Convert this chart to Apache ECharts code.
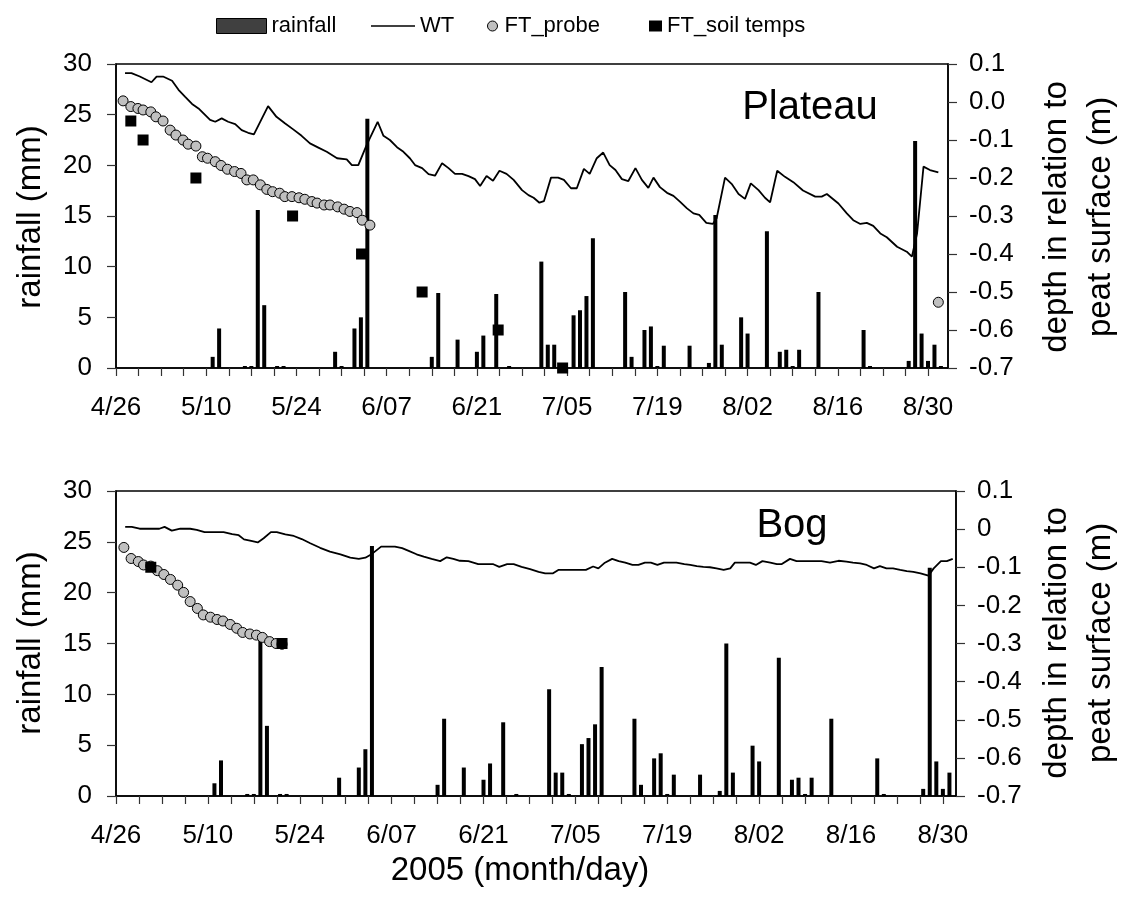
<!DOCTYPE html>
<html>
<head>
<meta charset="utf-8">
<script src="https://cdn.jsdelivr.net/npm/echarts@6.0.0/dist/echarts.min.js"></script>
<style>
  html, body { margin: 0; padding: 0; background: #fff; }
  #main { width: 1128px; height: 922px; }
</style>
</head>
<body>
<div id="main"></div>
<script>
// days counted from 4/26/2005
const rainDaysTop = [15,16,20,21,22,23,25,26,34,35,37,38,39,49,50,53,56,57,59,61,66,67,68,69,71,72,73,74,79,80,82,83,84,85,89,92,93,94,97,98,101,103,104,105,106,109,116,117,123,124,125,126,127,128];
const rainTop = [1.1,3.9,0.2,0.2,15.6,6.2,0.2,0.2,1.6,0.2,3.9,5.0,24.6,1.1,7.4,2.8,1.6,3.2,7.3,0.2,10.5,2.3,2.3,0.2,5.2,5.7,7.1,12.8,7.5,1.1,3.75,4.1,0.2,2.2,2.2,0.5,15.1,2.3,5.0,3.4,13.5,1.6,1.8,0.2,1.8,7.5,3.75,0.2,0.7,22.4,3.4,0.7,2.3,0.2];

const wtDaysTop = [1.4,2.4,3.7,5.5,6.3,7.3,8.7,9.7,10.7,11.8,12.8,14.6,15.4,16.4,17.4,18.5,19.5,20.5,21.4,23.6,24.9,26.2,27.5,28.8,30.1,31.4,32.7,34.3,35.8,36.6,37.6,38.9,40.6,41.5,42.5,43.6,44.6,45.6,46.4,47.5,48.5,49.5,50.6,51.6,52.6,53.7,54.7,55.7,56.5,57.5,58.5,59.5,60.6,61.7,63.0,64.0,64.8,65.7,66.4,67.5,68.6,69.5,70.6,71.5,72.6,73.5,74.6,75.6,76.6,77.5,78.5,79.5,80.6,81.6,82.6,83.4,84.4,85.5,86.5,87.5,88.6,89.6,90.5,91.6,92.6,93.2,94.5,95.6,96.6,97.6,98.5,99.7,100.7,101.5,102.6,103.8,105.1,106.6,108.5,109.5,110.3,112.1,113.4,114.4,115.5,116.5,117.5,118.6,119.6,121.2,122.7,123.5,124.3,125.3,126.3,127.6];
const wtTop = [0.076,0.076,0.067,0.052,0.067,0.067,0.056,0.032,0.014,-0.005,-0.017,-0.047,-0.052,-0.043,-0.052,-0.058,-0.074,-0.081,-0.085,-0.011,-0.039,-0.056,-0.072,-0.089,-0.109,-0.120,-0.131,-0.148,-0.151,-0.166,-0.166,-0.113,-0.052,-0.089,-0.100,-0.119,-0.131,-0.148,-0.166,-0.174,-0.190,-0.194,-0.161,-0.174,-0.189,-0.189,-0.195,-0.203,-0.221,-0.195,-0.207,-0.181,-0.189,-0.205,-0.232,-0.245,-0.252,-0.265,-0.261,-0.199,-0.199,-0.205,-0.227,-0.227,-0.176,-0.189,-0.148,-0.133,-0.166,-0.179,-0.203,-0.208,-0.174,-0.205,-0.226,-0.199,-0.224,-0.239,-0.247,-0.262,-0.280,-0.293,-0.297,-0.318,-0.321,-0.306,-0.199,-0.217,-0.242,-0.255,-0.214,-0.232,-0.252,-0.264,-0.181,-0.197,-0.211,-0.233,-0.249,-0.249,-0.242,-0.267,-0.293,-0.311,-0.321,-0.318,-0.326,-0.346,-0.356,-0.381,-0.394,-0.407,-0.346,-0.170,-0.179,-0.185];

const probeDaysTop = [1.1,2.3,3.4,4.2,5.4,6.2,7.3,8.4,9.3,10.4,11.2,12.4,13.4,14.2,15.4,16.3,17.3,18.4,19.4,20.3,21.3,22.4,23.4,24.3,25.4,26.2,27.3,28.4,29.3,30.4,31.2,32.3,33.2,34.4,35.4,36.3,37.4,38.2,39.4,127.6];
const probeTop = [0.003,-0.012,-0.017,-0.021,-0.026,-0.039,-0.050,-0.074,-0.087,-0.100,-0.111,-0.116,-0.144,-0.148,-0.157,-0.167,-0.177,-0.183,-0.188,-0.205,-0.205,-0.218,-0.230,-0.236,-0.240,-0.249,-0.249,-0.252,-0.256,-0.262,-0.266,-0.271,-0.271,-0.276,-0.282,-0.288,-0.291,-0.311,-0.324,-0.527];

const soilDaysTop = [2.3,4.2,12.4,27.4,38.1,47.5,59.3,69.3];
const soilTop = [-0.05,-0.1,-0.2,-0.3,-0.4,-0.5,-0.6,-0.7];

const rainDaysBog = [15,16,20,21,22,23,25,26,34,37,38,39,49,50,53,56,57,59,61,66,67,68,69,71,72,73,74,79,80,82,83,84,85,89,92,93,94,97,98,101,103,104,105,106,109,116,117,123,124,125,126,127];
const rainBog = [1.25,3.5,0.2,0.2,15.5,6.9,0.2,0.2,1.8,2.8,4.6,24.6,1.1,7.6,2.8,1.6,3.2,7.25,0.2,10.5,2.3,2.3,0.2,5.1,5.7,7.05,12.7,7.6,1.1,3.7,4.2,0.2,2.1,2.1,0.5,15.0,2.3,4.95,3.4,13.6,1.6,1.8,0.2,1.8,7.6,3.7,0.2,0.7,22.45,3.4,0.7,2.3];

const wtDaysBog = [1.4,2.4,3.6,4.7,5.7,6.6,7.4,8.5,9.8,11.3,12.3,13.5,14.9,16.4,17.7,18.7,19.5,20.6,21.6,22.5,23.6,24.5,25.8,27.1,28.3,29.6,31.1,32.6,34.2,35.7,37.0,38.0,39.0,40.4,42.5,43.6,44.6,45.8,46.9,48.1,49.4,50.4,51.4,52.4,53.7,55.2,56.5,57.5,58.4,59.6,60.6,61.8,63.1,64.4,65.4,66.6,67.4,68.7,70.2,71.6,72.7,73.5,74.5,75.6,76.6,77.6,78.7,79.6,80.6,81.5,82.5,83.5,84.5,85.4,86.6,87.5,88.5,89.5,90.5,91.5,92.6,93.6,94.3,95.6,96.6,97.5,98.5,99.7,100.7,101.4,102.7,103.7,105.0,106.3,107.5,108.8,110.1,111.3,112.3,113.4,114.4,115.5,116.4,117.4,118.4,119.5,120.5,121.5,122.6,123.8,124.6,125.7,126.6,127.5];
const wtBog = [0.006,0.006,0.001,0.001,0.001,0.001,0.006,-0.004,0.001,0.001,-0.002,-0.008,-0.008,-0.008,-0.013,-0.016,-0.027,-0.031,-0.035,-0.024,-0.008,-0.008,-0.014,-0.018,-0.026,-0.037,-0.049,-0.059,-0.066,-0.075,-0.078,-0.075,-0.065,-0.046,-0.046,-0.050,-0.057,-0.066,-0.072,-0.078,-0.084,-0.074,-0.078,-0.083,-0.084,-0.092,-0.092,-0.092,-0.099,-0.092,-0.092,-0.099,-0.105,-0.112,-0.116,-0.116,-0.107,-0.107,-0.107,-0.107,-0.098,-0.103,-0.088,-0.078,-0.084,-0.088,-0.094,-0.094,-0.088,-0.088,-0.094,-0.088,-0.088,-0.088,-0.092,-0.094,-0.097,-0.099,-0.100,-0.103,-0.107,-0.103,-0.088,-0.088,-0.088,-0.094,-0.084,-0.088,-0.092,-0.092,-0.078,-0.084,-0.084,-0.084,-0.084,-0.088,-0.083,-0.085,-0.088,-0.090,-0.094,-0.103,-0.097,-0.103,-0.103,-0.107,-0.110,-0.112,-0.116,-0.122,-0.103,-0.084,-0.084,-0.078];

const probeDaysBog = [1.2,2.3,3.4,4.2,5.3,6.3,7.3,8.3,9.4,10.3,11.3,12.4,13.3,14.4,15.4,16.3,17.4,18.4,19.3,20.4,21.4,22.3,23.4,24.4,25.3];
const probeBog = [-0.048,-0.077,-0.085,-0.094,-0.097,-0.109,-0.119,-0.132,-0.147,-0.166,-0.190,-0.208,-0.225,-0.231,-0.237,-0.241,-0.250,-0.260,-0.271,-0.275,-0.278,-0.284,-0.295,-0.300,-0.302];

const soilDaysBog = [5.3,25.3];
const soilBog = [-0.1,-0.3];

const FONT = 'Liberation Sans, Arial, sans-serif';

function zip(xs, ys) {
  return xs.map((x, i) => [x, ys[i]]);
}

function dayLabel(v) {
  const k = v / 14;
  if (Math.abs(k - Math.round(k)) > 1e-6) return '';
  const d = new Date(2005, 3, 26 + Math.round(v));
  return (d.getMonth() + 1) + '/' + String(d.getDate()).padStart(2, '0');
}

function xAxis(grid, max) {
  return {
    gridIndex: grid, type: 'value', min: 0, max: max, interval: 3.5,
    axisLine: { show: true, onZero: false, lineStyle: { color: '#000', width: 1.5 } },
    axisTick: { show: true, length: 8, lineStyle: { color: '#333', width: 1.2 } },
    axisLabel: { formatter: dayLabel, fontSize: 26, fontFamily: FONT, color: '#000', margin: 27, showMaxLabel: false },
    splitLine: { show: false }
  };
}

function yLeft(grid) {
  return {
    gridIndex: grid, type: 'value', position: 'left', min: 0, max: 30, interval: 5,
    axisLine: { show: true, lineStyle: { color: '#000', width: 1.5 } },
    axisTick: { show: true, length: 9, lineStyle: { color: '#333', width: 1.2 } },
    axisLabel: { fontSize: 26, fontFamily: FONT, color: '#000', margin: 24 },
    splitLine: { show: false }
  };
}

function yRight(grid, fmt) {
  return {
    gridIndex: grid, type: 'value', position: 'right', min: -0.7, max: 0.1, interval: 0.1,
    axisLine: { show: true, lineStyle: { color: '#000', width: 1.5 } },
    axisTick: { show: true, length: 9, lineStyle: { color: '#333', width: 1.2 } },
    axisLabel: { fontSize: 26, fontFamily: FONT, color: '#000', margin: 21, formatter: fmt },
    splitLine: { show: false }
  };
}

function fmtTop(v) {
  if (Math.abs(v) < 1e-9) return '0.0';
  return v.toFixed(1);
}
function fmtBog(v) {
  if (Math.abs(v) < 1e-9) return '0';
  return v.toFixed(1);
}

function seriesFor(x, yl, yr, rd, rv, wd, wv, pd, pv, sd, sv) {
  return [
    { name: 'rainfall', type: 'bar', xAxisIndex: x, yAxisIndex: yl, barWidth: 4,
      itemStyle: { color: '#000' }, data: zip(rd, rv), z: 2 },
    { name: 'WT', type: 'line', xAxisIndex: x, yAxisIndex: yr, symbol: 'none',
      lineStyle: { color: '#000', width: 1.8 }, itemStyle: { color: '#000' }, data: zip(wd, wv), z: 3 },
    { name: 'FT_probe', type: 'scatter', xAxisIndex: x, yAxisIndex: yr, symbol: 'circle', symbolSize: 10,
      itemStyle: { color: '#c0c0c0', borderColor: '#000', borderWidth: 1, opacity: 1 }, data: zip(pd, pv), z: 4 },
    { name: 'FT_soil temps', type: 'scatter', xAxisIndex: x, yAxisIndex: yr, symbol: 'rect', symbolSize: 11,
      itemStyle: { color: '#000', opacity: 1 }, data: zip(sd, sv), z: 5 }
  ];
}

function legendItem(left, top, name, w, h) {
  return {
    top: top, left: left, itemWidth: w, itemHeight: h, itemGap: 0, selectedMode: false,
    textStyle: { fontSize: 22, fontFamily: FONT, color: '#000' },
    data: [name]
  };
}

const chart = echarts.init(document.getElementById('main'));

chart.setOption({
  backgroundColor: '#fff',
  animation: false,
  grid: [
    { left: 116, top: 64, width: 832, height: 304, show: true, borderColor: '#000', borderWidth: 1.5, outerBoundsMode: 'none' },
    { left: 116, top: 491, width: 840, height: 305, show: true, borderColor: '#000', borderWidth: 1.5, outerBoundsMode: 'none' }
  ],
  legend: [
    legendItem(211, 10, { name: 'rainfall', icon: 'rect', itemStyle: { color: '#404040', borderColor: '#000', borderWidth: 1 } }, 50, 15),
    legendItem(366, 10, { name: 'WT', icon: 'rect', itemStyle: { color: '#000', borderWidth: 0 } }, 44, 1.6),
    legendItem(482, 10, { name: 'FT_probe', icon: 'circle', itemStyle: { color: '#c0c0c0', borderColor: '#000', borderWidth: 1 } }, 14, 10),
    legendItem(644, 10, { name: 'FT_soil temps', icon: 'rect', itemStyle: { color: '#000' } }, 13, 11)
  ],
  xAxis: [xAxis(0, 129.1), xAxis(1, 128)],
  yAxis: [yLeft(0), yRight(0, fmtTop), yLeft(1), yRight(1, fmtBog)],
  series: [].concat(
    seriesFor(0, 0, 1, rainDaysTop, rainTop, wtDaysTop, wtTop, probeDaysTop, probeTop, soilDaysTop, soilTop),
    seriesFor(1, 2, 3, rainDaysBog, rainBog, wtDaysBog, wtBog, probeDaysBog, probeBog, soilDaysBog, soilBog)
  ),
  graphic: [
    { type: 'text', x: 810, y: 108, style: { text: 'Plateau', fontSize: 40, fontFamily: FONT, fill: '#000', textAlign: 'center', textVerticalAlign: 'middle' } },
    { type: 'text', x: 792, y: 526, style: { text: 'Bog', fontSize: 40, fontFamily: FONT, fill: '#000', textAlign: 'center', textVerticalAlign: 'middle' } },
    { type: 'text', x: 520, y: 871, style: { text: '2005 (month/day)', fontSize: 33, fontFamily: FONT, fill: '#000', textAlign: 'center', textVerticalAlign: 'middle' } },
    { type: 'text', x: 31, y: 217, rotation: Math.PI / 2, style: { text: 'rainfall (mm)', fontSize: 33, fontFamily: FONT, fill: '#000', textAlign: 'center', textVerticalAlign: 'middle' } },
    { type: 'text', x: 31, y: 643, rotation: Math.PI / 2, style: { text: 'rainfall (mm)', fontSize: 33, fontFamily: FONT, fill: '#000', textAlign: 'center', textVerticalAlign: 'middle' } },
    { type: 'text', x: 1057, y: 217, rotation: Math.PI / 2, style: { text: 'depth in relation to', fontSize: 33, fontFamily: FONT, fill: '#000', textAlign: 'center', textVerticalAlign: 'middle' } },
    { type: 'text', x: 1101, y: 217, rotation: Math.PI / 2, style: { text: 'peat surface (m)', fontSize: 33, fontFamily: FONT, fill: '#000', textAlign: 'center', textVerticalAlign: 'middle' } },
    { type: 'text', x: 1057, y: 643, rotation: Math.PI / 2, style: { text: 'depth in relation to', fontSize: 33, fontFamily: FONT, fill: '#000', textAlign: 'center', textVerticalAlign: 'middle' } },
    { type: 'text', x: 1101, y: 643, rotation: Math.PI / 2, style: { text: 'peat surface (m)', fontSize: 33, fontFamily: FONT, fill: '#000', textAlign: 'center', textVerticalAlign: 'middle' } }
  ]
});
</script>
</body>
</html>
